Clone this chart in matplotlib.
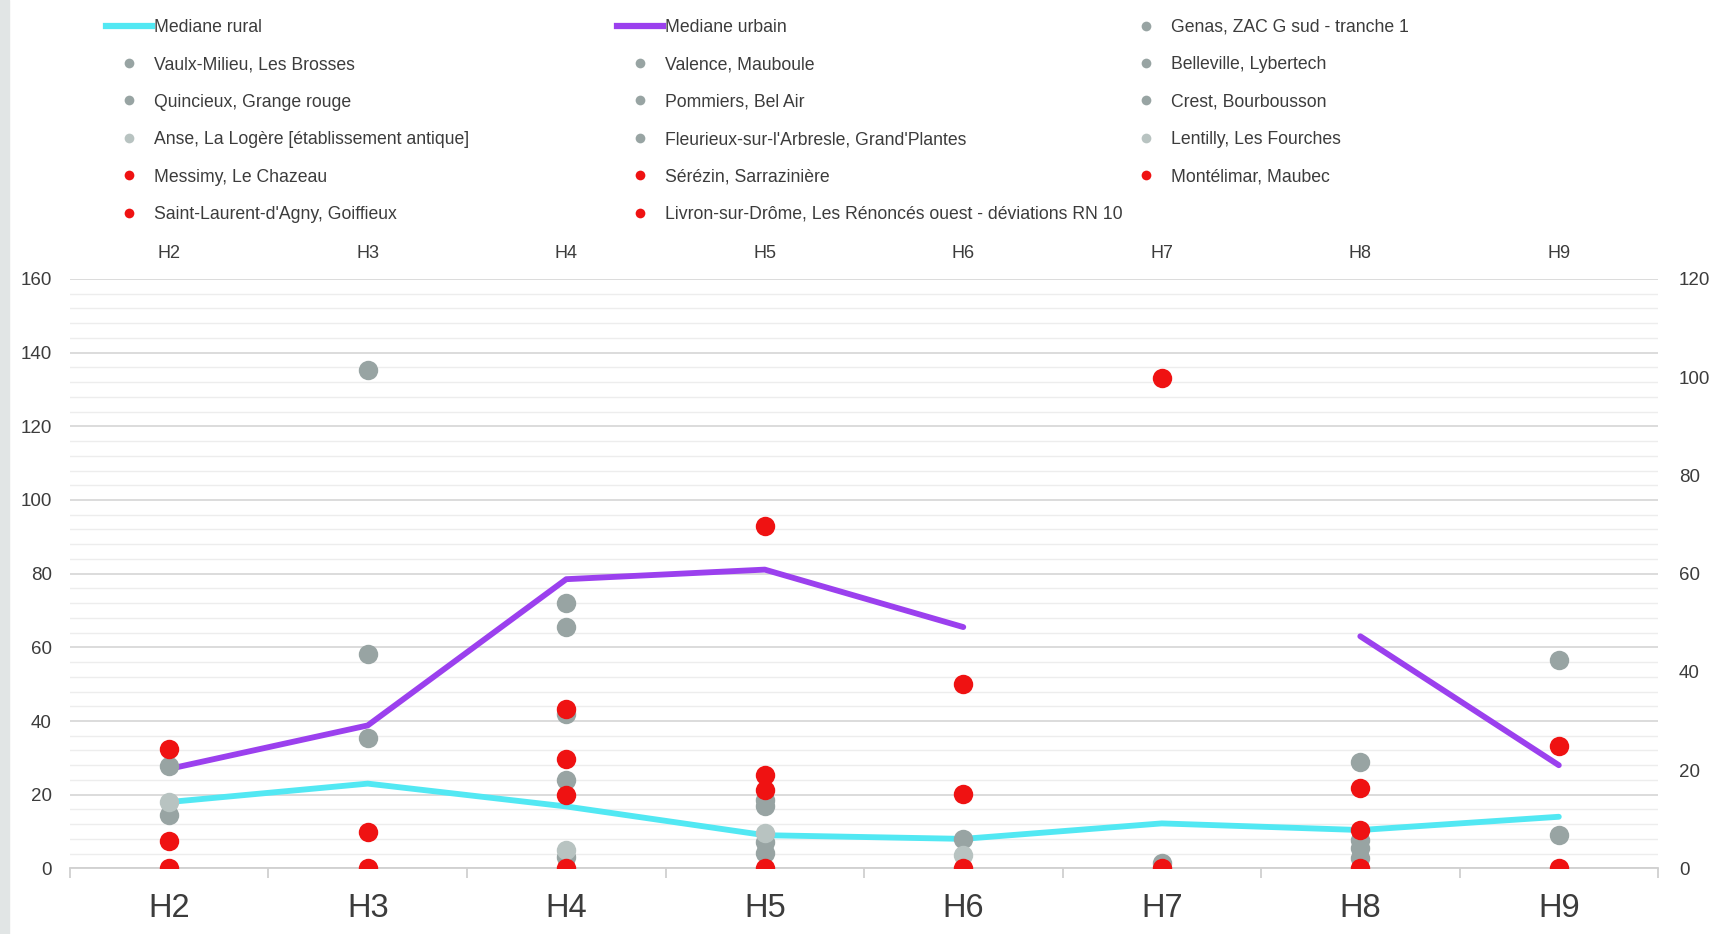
import numpy as np
import matplotlib
matplotlib.use("Agg")
import matplotlib.pyplot as plt
from matplotlib.lines import Line2D
from matplotlib.patches import Rectangle
from matplotlib.ticker import MultipleLocator, FixedLocator

nan = np.nan
phases = ["H2", "H3", "H4", "H5", "H6", "H7", "H8", "H9"]

mediane_rural = [18.0, 23.0, 16.8, 9.0, 8.0, 12.2, 10.4, 14.0]
mediane_urbain = [27.0, 38.8, 78.5, 81.1, 65.5, nan, 63.0, 28.0]

genas = [27.8, 135.3, 71.9, 18.5, 7.9, nan, 28.8, 56.5]
vaulx_milieu = [14.5, 58.1, 65.6, 17.0, nan, nan, 7.7, 9.0]
valence = [nan, 35.5, 42.0, 7.2, nan, nan, 5.4, nan]
belleville = [nan, nan, 24.1, 4.1, nan, 1.4, 2.7, nan]
quincieux = [nan, nan, 3.2, nan, nan, nan, nan, nan]
pommiers = [nan, nan, nan, nan, nan, nan, nan, nan]
crest = [nan, nan, nan, nan, nan, nan, nan, nan]
fleurieux = [nan, nan, nan, nan, nan, nan, nan, nan]
anse = [18.0, nan, 5.0, 9.5, 3.6, nan, nan, nan]
lentilly = [nan, nan, nan, nan, nan, nan, nan, nan]
messimy = [32.3, 10.0, 43.3, 93.0, 50.1, 133.1, 21.9, 33.2]
serezin = [7.4, 0.0, 29.8, 25.3, 20.3, 0.0, 10.4, 0.0]
montelimar = [0.0, nan, 19.9, 21.4, 0.0, nan, 0.0, nan]
saint_laurent = [nan, nan, 0.0, 0.0, nan, nan, nan, nan]
livron = [nan, nan, nan, nan, nan, nan, nan, nan]

C_CYAN = "#52e8f3"
C_PURPLE = "#9b40ee"
C_GRAY = "#98a4a3"
C_LGRAY = "#b8c3c1"
C_RED = "#ef1212"
TXT = "#3c3c3c"

series = [
    ("Genas, ZAC G sud - tranche 1", genas, C_GRAY),
    ("Vaulx-Milieu, Les Brosses", vaulx_milieu, C_GRAY),
    ("Valence, Mauboule", valence, C_GRAY),
    ("Belleville, Lybertech", belleville, C_GRAY),
    ("Quincieux, Grange rouge", quincieux, C_GRAY),
    ("Pommiers, Bel Air", pommiers, C_GRAY),
    ("Crest, Bourbousson", crest, C_GRAY),
    ("Anse, La Logère [établissement antique]", anse, C_LGRAY),
    ("Fleurieux-sur-l'Arbresle, Grand'Plantes", fleurieux, C_GRAY),
    ("Lentilly, Les Fourches", lentilly, C_LGRAY),
    ("Messimy, Le Chazeau", messimy, C_RED),
    ("Sérézin, Sarrazinière", serezin, C_RED),
    ("Montélimar, Maubec", montelimar, C_RED),
    ("Saint-Laurent-d'Agny, Goiffieux", saint_laurent, C_RED),
    ("Livron-sur-Drôme, Les Rénoncés ouest - déviations RN 10", livron, C_RED),
]

plt.rcParams['font.family'] = ['Liberation Sans', 'DejaVu Sans']

fig = plt.figure(figsize=(17.15, 9.34), dpi=100)
fig.patch.set_facecolor("white")
fig.add_artist(Rectangle((0, 0), 9 / 1715, 1, transform=fig.transFigure,
                         color="#e1e5e5", zorder=0))

ax = fig.add_axes([0.0408, 0.0703, 0.9260, 0.6310])
x = np.arange(len(phases))

ax.plot(x, mediane_rural, color=C_CYAN, lw=4.2, zorder=3, solid_capstyle="round")
ax.plot(x, mediane_urbain, color=C_PURPLE, lw=4.2, zorder=3, solid_capstyle="round")

handles = {}
for name, vals, col in series:
    ax.plot(x, vals, linestyle="none", marker="o", ms=14, color=col,
            markeredgewidth=0, zorder=4)
    handles[name] = Line2D([], [], linestyle="none", marker="o", ms=7,
                           color=col, markeredgewidth=0)

ax.set_xlim(-0.5, len(phases) - 0.5)
ax.set_ylim(0, 160)
ax.yaxis.set_major_locator(MultipleLocator(20))
ax.yaxis.set_minor_locator(MultipleLocator(4))
ax.grid(which="major", axis="y", color="#d9d9d9", lw=1.3, zorder=0)
ax.grid(which="minor", axis="y", color="#ededed", lw=1.0, zorder=0)
ax.set_axisbelow(True)
for s in ["left", "right", "top"]:
    ax.spines[s].set_visible(False)
ax.spines["bottom"].set_color("#d0d0d0")
ax.spines["bottom"].set_linewidth(1.3)

ax.set_xticks(x)
ax.set_xticklabels(phases)
ax.xaxis.set_minor_locator(FixedLocator(np.arange(-0.5, len(phases), 1.0)))
ax.tick_params(axis="x", which="major", length=0, pad=18, labelsize=23.5, labelcolor=TXT)
ax.tick_params(axis="x", which="minor", length=7, width=1.3, color="#d0d0d0")
ax.tick_params(axis="y", which="both", length=0, pad=13, labelsize=13.5, labelcolor=TXT)

axr = ax.twinx()
axr.set_ylim(0, 120)
axr.set_yticks(np.arange(0, 121, 20))
for s in axr.spines.values():
    s.set_visible(False)
axr.tick_params(axis="y", length=0, pad=15, labelsize=13.5, labelcolor=TXT)

axt = ax.twiny()
axt.set_xlim(ax.get_xlim())
axt.set_xticks(x)
axt.set_xticklabels(phases)
for s in axt.spines.values():
    s.set_visible(False)
axt.tick_params(axis="x", length=0, pad=12, labelsize=13, labelcolor=TXT)

# legend, three columns laid out row by row
h_rural = Line2D([], [], color=C_CYAN, lw=4.5)
h_urb = Line2D([], [], color=C_PURPLE, lw=4.5)
entries = [("Mediane rural", h_rural), ("Mediane urbain", h_urb)] + \
          [(n, handles[n]) for n, _, _ in series]
cols = [entries[0::3], entries[1::3], entries[2::3]]
col_x = [0.0620, 0.3598, 0.6550]
leg_prop = {"family": ["Liberation Sans Narrow", "Liberation Sans", "DejaVu Sans"], "size": 12.7}
for cx, ent in zip(col_x, cols):
    leg = fig.legend([e[1] for e in ent], [e[0] for e in ent], loc="upper left",
                     bbox_to_anchor=(cx, 0.980), frameon=False, borderpad=0,
                     borderaxespad=0, handlelength=2.6, handletextpad=0.1,
                     labelspacing=1.16, prop=leg_prop)
    for t in leg.get_texts():
        t.set_color(TXT)

fig.savefig("out.png", dpi=100)
